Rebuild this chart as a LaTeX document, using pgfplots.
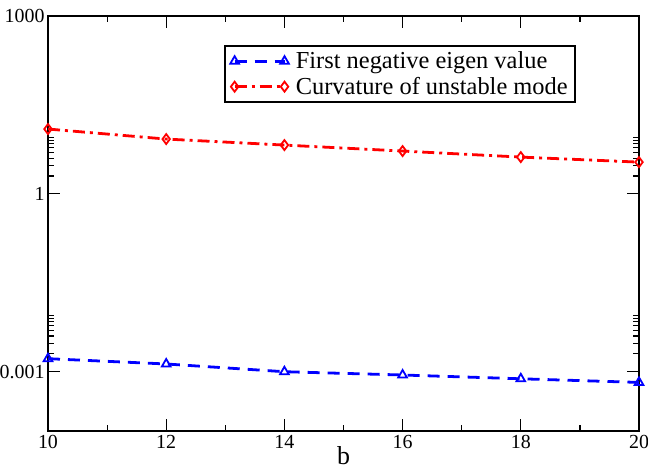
\documentclass[border=0pt]{standalone}
\usepackage{fontspec}
\setmainfont{Liberation Serif}
\usepackage{pgfplots}
\pgfplotsset{compat=1.18}
\definecolor{gblue}{RGB}{0,0,255}
\definecolor{gred}{RGB}{255,0,0}
\begin{document}
\begin{tikzpicture}
\begin{axis}[
  scale only axis,
  width=591bp, height=415bp,
  ymode=log,
  xmin=10, xmax=20,
  ymin=1e-4, ymax=1e3,
  xtick={10,12,14,16,18,20},
  minor xtick={11,13,15,17,19},
  ytick={1e-3,1,1e3},
  yticklabels={0.001,1,1000},
  minor ytick={2e-3,3e-3,4e-3,5e-3,6e-3,7e-3,8e-3,9e-3,2,3,4,5,6,7,8,9},
  tick align=inside,
  major tick length=12bp,
  minor tick length=6bp,
  every tick/.style={black, line width=1.2pt},
  axis line style={line width=2.8pt},
  ticklabel style={font=\fontsize{20}{22}\selectfont},
  /pgf/number format/assume math mode=true,
  xticklabel style={yshift=-1bp},
  yticklabel style={xshift=0bp},
  xlabel={b},
  xlabel style={font=\fontsize{26}{28}\selectfont, yshift=9bp},
  legend style={at={(0.2985,0.93)}, anchor=north west, draw=black, line width=1.8pt,
    font=\fontsize{24.5}{26}\selectfont, inner xsep=5bp, inner ysep=4bp,
    row sep=3bp,
    /tikz/every odd column/.style={column sep=5bp}},
  legend cell align=left,
  legend image code/.code={\draw[mark repeat=2,mark phase=1] plot coordinates {(0cm,0cm) (0.88cm,0cm) (1.76cm,0cm)};},
]
\addplot[gblue, line width=2.8pt, dash pattern=on 12bp off 8bp,
  mark=triangle, mark size=5bp, mark options={solid, line width=1.8pt}]
  coordinates {(10,1.66e-3) (12,1.35e-3) (14,1.0e-3) (16,8.8e-4) (18,7.6e-4) (20,6.6e-4)};
\addlegendentry{First negative eigen value}
\addplot[gred, line width=2.8pt, dash pattern=on 12bp off 5bp on 3bp off 5bp,
  mark=diamond, mark size=5bp, mark options={solid, line width=1.8pt}]
  coordinates {(10,12.4) (12,8.4) (14,6.65) (16,5.27) (18,4.17) (20,3.43)};
\addlegendentry{Curvature of unstable mode}
\end{axis}
\pgfresetboundingbox
\path[use as bounding box] ([shift={(-48bp,-40bp)}]current axis.south west) rectangle ([shift={(9bp,16bp)}]current axis.north east);
\end{tikzpicture}
\end{document}
